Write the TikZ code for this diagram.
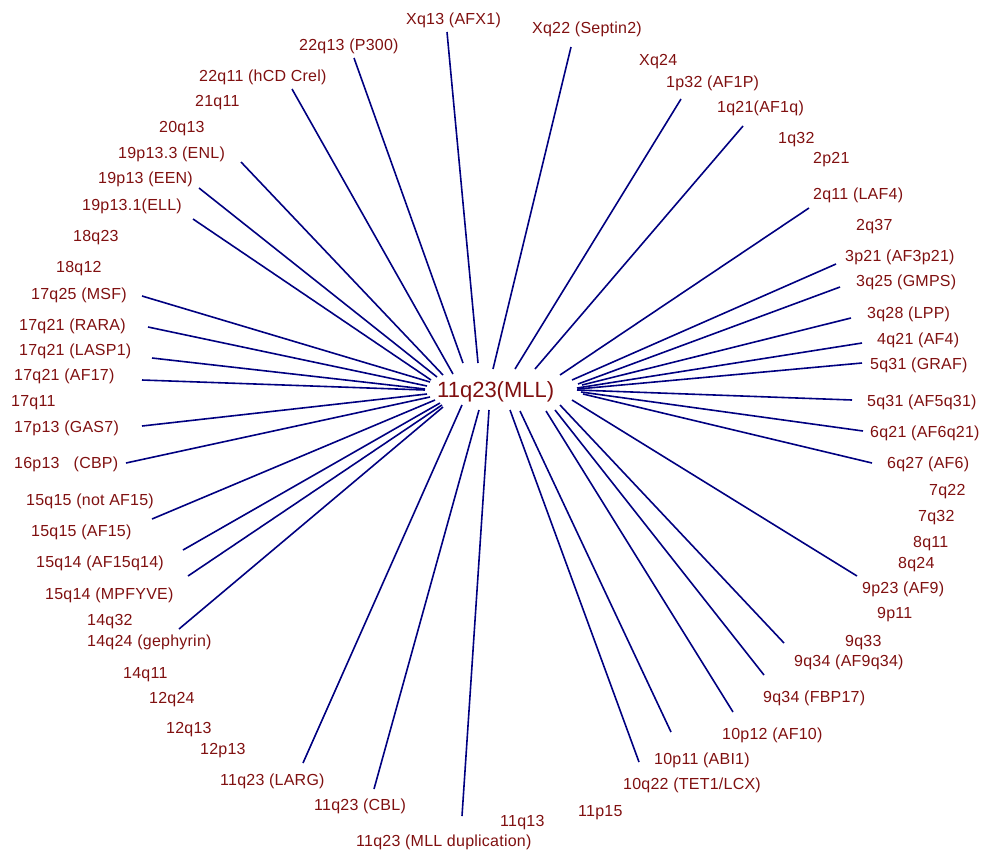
\documentclass[tikz,border=0pt]{standalone}
\usepackage{fontspec}
\setmainfont{Liberation Sans}
\newfontfamily\labfont[LetterSpace=1.5]{Liberation Sans}
\definecolor{lbl}{RGB}{128,16,16}
\definecolor{ln}{RGB}{0,0,128}
\begin{document}
\begin{tikzpicture}[x=1pt,y=-1pt,
  lab/.style={anchor=base west,inner sep=0pt,text=lbl,font=\labfont\fontsize{16}{16}\selectfont},
  conn/.style={draw=ln,line width=1.6pt}]
\useasboundingbox (0,0) rectangle (981,852);
% centre
\node[anchor=base west,inner sep=0pt,text=lbl,font=\fontsize{22}{22}\selectfont] (mll) at (437,397) {11q23(MLL)};
% labels
\node[lab] (tXqA) at (406,24) {Xq13 (AFX1)};
\node[lab] (tXqB) at (532,33) {Xq22 (Septin2)};
\node[lab] (tXqC) at (639,65) {Xq24};
\node[lab] (t22a) at (299,50) {22q13 (P300)};
\node[lab] (t22b) at (199,81) {22q11 (hCD Crel)};
\node[lab] (t21) at (195,106) {21q11};
\node[lab] (t20) at (159,132) {20q13};
\node[lab] (t19a) at (118,158) {19p13.3 (ENL)};
\node[lab] (t19b) at (98,183) {19p13 (EEN)};
\node[lab] (t19c) at (82,210) {19p13.1(ELL)};
\node[lab] (t18a) at (73,241) {18q23};
\node[lab] (t18b) at (56,272) {18q12};
\node[lab] (t17a) at (31,299) {17q25 (MSF)};
\node[lab] (t17b) at (19,330) {17q21 (RARA)};
\node[lab] (t17c) at (19,355) {17q21 (LASP1)};
\node[lab] (t17d) at (14,380) {17q21 (AF17)};
\node[lab] (t17e) at (11,406) {17q11};
\node[lab] (t17f) at (14,432) {17p13 (GAS7)};
\node[lab] (t16) at (14,468) {16p13\ \ \ (CBP)};
\node[lab] (t15a) at (26,505) {15q15 (not AF15)};
\node[lab] (t15b) at (31,536) {15q15 (AF15)};
\node[lab] (t15c) at (36,567) {15q14 (AF15q14)};
\node[lab] (t15d) at (45,599) {15q14 (MPFYVE)};
\node[lab] (t14a) at (87,625) {14q32};
\node[lab] (t14b) at (87,646) {14q24 (gephyrin)};
\node[lab] (t14c) at (123,678) {14q11};
\node[lab] (t12a) at (149,703) {12q24};
\node[lab] (t12b) at (166,733) {12q13};
\node[lab] (t12c) at (200,754) {12p13};
\node[lab] (t11a) at (220,785) {11q23 (LARG)};
\node[lab] (t11b) at (314,810) {11q23 (CBL)};
\node[lab] (t11c) at (356,846) {11q23 (MLL duplication)};
\node[lab] (t11d) at (500,826) {11q13};
\node[lab] (t11e) at (578,816) {11p15};
\node[lab] (t10a) at (623,789) {10q22 (TET1/LCX)};
\node[lab] (t10b) at (654,764) {10p11 (ABI1)};
\node[lab] (t10c) at (722,739) {10p12 (AF10)};
\node[lab] (t9a) at (763,702) {9q34 (FBP17)};
\node[lab] (t9b) at (794,666) {9q34 (AF9q34)};
\node[lab] (t9c) at (845,646) {9q33};
\node[lab] (t9d) at (877,618) {9p11};
\node[lab] (t9e) at (862,593) {9p23 (AF9)};
\node[lab] (t8a) at (898,568) {8q24};
\node[lab] (t8b) at (913,547) {8q11};
\node[lab] (t7a) at (918,521) {7q32};
\node[lab] (t7b) at (929,495) {7q22};
\node[lab] (t6a) at (887,468) {6q27 (AF6)};
\node[lab] (t6b) at (870,437) {6q21 (AF6q21)};
\node[lab] (t5a) at (867,406) {5q31 (AF5q31)};
\node[lab] (t5b) at (870,369) {5q31 (GRAF)};
\node[lab] (t4) at (877,344) {4q21 (AF4)};
\node[lab] (t3a) at (867,318) {3q28 (LPP)};
\node[lab] (t3b) at (856,286) {3q25 (GMPS)};
\node[lab] (t3c) at (845,261) {3p21 (AF3p21)};
\node[lab] (t2a) at (856,230) {2q37};
\node[lab] (t2b) at (813,199) {2q11 (LAF4)};
\node[lab] (t2c) at (813,163) {2p21};
\node[lab] (t1a) at (778,143) {1q32};
\node[lab] (t1b) at (717,112) {1q21(AF1q)};
\node[lab] (t1c) at (666,87) {1p32 (AF1P)};
% connector ends
\foreach \n/\ox/\oy/\ix/\iy in {
  a/447/32/478/363, b/571/47/493/369, c/354/58/463/363, d/681/99/515/369,
  e/743/126/535/369, f/292/89/453/374, g/241/162/443/375, h/199/188/437/377,
  i/193/219/431/380, j/142/296/430/382, k/148/327/427/386, l/152/358/425/389,
  m/142/380/425/390, n/142/426/427/394, o/126/463/430/397, p/152/519/435/400,
  q/183/550/440/403, r/188/576/442/405, s/179/629/443/407, t/303/763/462/405,
  u/374/789/479/410, v/462/816/489/410, w/639/762/510/410, x/671/732/520/411,
  y/733/712/546/411, z/764/675/555/410, A/784/643/560/405, B/857/576/572/400,
  C/872/463/583/394, D/863/431/581/392, E/852/400/577/390, F/862/363/578/389,
  G/862/343/577/388, H/851/318/582/385, I/840/287/578/384, J/836/264/572/380,
  K/809/208/560/375}{
  \coordinate (o\n) at (\ox,\oy);
  \coordinate (i\n) at (\ix,\iy);
  \draw[conn] (o\n) -- (i\n);
}
\end{tikzpicture}
\end{document}
